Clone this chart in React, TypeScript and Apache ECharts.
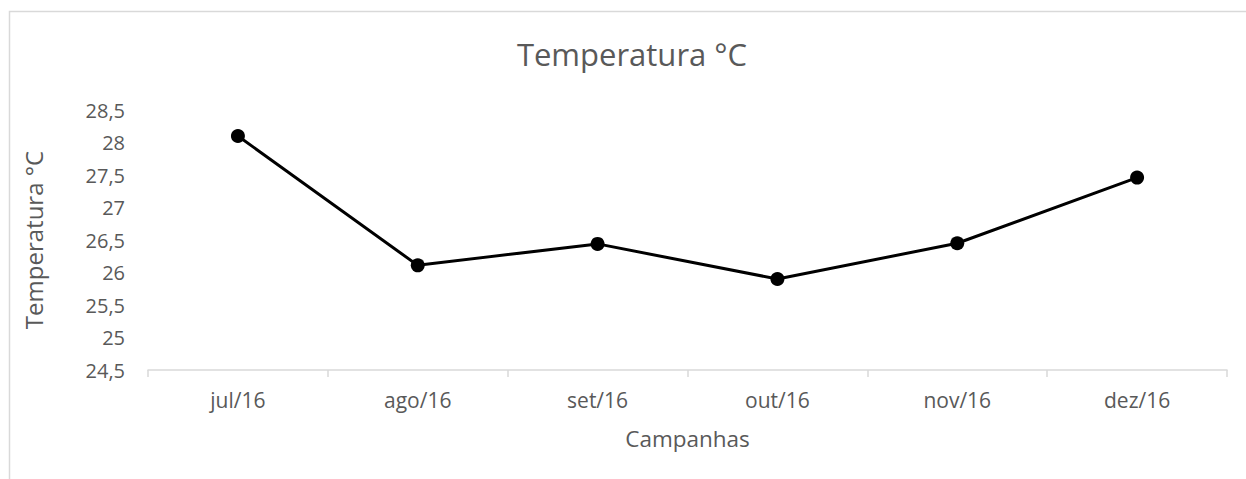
import React, { useEffect, useRef } from "react";
import * as echarts from "echarts";

const categories = ["jul/16", "ago/16", "set/16", "out/16", "nov/16", "dez/16"];
const temperatures = [28.1, 26.11, 26.44, 25.9, 26.45, 27.46];
const yMin = 24.5;
const yMax = 28.5;
const yStep = 0.5;
const chartTitle = "Temperatura °C";
const yAxisName = "Temperatura °C";
const xAxisName = "Campanhas";

const FONT = "'Open Sans', sans-serif";
const TEXT = "#595959";

export default function App() {
  const ref = useRef<HTMLDivElement>(null);
  useEffect(() => {
    if (!ref.current) return;
    const chart = echarts.init(ref.current, undefined, { renderer: "svg" });
    chart.setOption({
      animation: false,
      backgroundColor: "#ffffff",
      textStyle: { fontFamily: FONT },
      title: {
        text: chartTitle,
        left: 632,
        top: 38,
        padding: 0,
        textAlign: "center",
        textStyle: { fontFamily: FONT, fontSize: 31, fontWeight: "normal", color: TEXT },
      },
      graphic: [
        {
          type: "rect",
          shape: { x: 9.5, y: 11.5, width: 1400, height: 700 },
          style: { fill: "none", stroke: "#d9d9d9", lineWidth: 1.5 },
          silent: true,
          z: -1,
        },
      ],
      grid: { left: 148, right: 19, top: 110, bottom: 109 },
      xAxis: {
        type: "category",
        data: categories,
        boundaryGap: true,
        name: xAxisName,
        nameLocation: "middle",
        nameGap: 57,
        nameTextStyle: { fontFamily: FONT, fontSize: 22.5, color: TEXT },
        axisLine: { lineStyle: { color: "#d9d9d9", width: 1.5 } },
        axisTick: { show: true, length: 7, lineStyle: { color: "#d9d9d9", width: 1.5 } },
        axisLabel: { fontFamily: FONT, fontSize: 21, color: TEXT, margin: 19 },
        splitLine: { show: false },
      },
      yAxis: {
        type: "value",
        min: yMin,
        max: yMax,
        interval: yStep,
        name: yAxisName,
        nameLocation: "middle",
        nameGap: 103,
        nameTextStyle: { fontFamily: FONT, fontSize: 24, color: TEXT },
        axisLine: { show: false },
        axisTick: { show: false },
        splitLine: { show: false },
        axisLabel: {
          fontFamily: FONT,
          fontSize: 20,
          color: TEXT,
          margin: 23,
          formatter: (v: number) => String(v).replace(".", ","),
        },
      },
      series: [
        {
          type: "line",
          data: temperatures,
          symbol: "circle",
          symbolSize: 14,
          lineStyle: { color: "#000000", width: 3 },
          itemStyle: { color: "#000000" },
        },
      ],
    });
    return () => chart.dispose();
  }, []);
  return (
    <div
      ref={ref}
      style={{ position: "absolute", left: 0, top: 0, width: 1246, height: 479 }}
    />
  );
}
